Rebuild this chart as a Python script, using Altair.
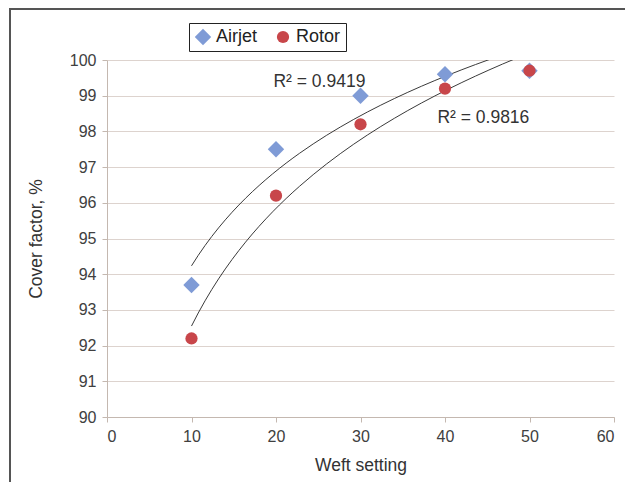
import altair as alt
import pandas as pd

weft = [10, 20, 30, 40, 50]
airjet = [93.7, 97.5, 99.0, 99.6, 99.7]
rotor = [92.2, 96.2, 98.2, 99.2, 99.7]
series_names = ["Airjet", "Rotor"]
colors = ["#7f9bd6", "#c8464a"]
shapes = ["diamond", "circle"]
marker_sizes = [270, 150]
r2_labels = ["R\u00b2 = 0.9419", "R\u00b2 = 0.9816"]
r2_x = [19.7, 39.1]
r2_y = [99.38, 98.37]

rows = []
for name, vals in zip(series_names, [airjet, rotor]):
    for w, v in zip(weft, vals):
        rows.append({"series": name, "weft": w, "value": v})
df = pd.DataFrame(rows)
ann = pd.DataFrame({"label": r2_labels, "weft": r2_x, "value": r2_y})

FONT = "Liberation Sans"
xs = alt.Scale(domain=[0, 60], nice=False)
ys = alt.Scale(domain=[90, 100], nice=False)

x_axis = alt.Axis(values=[0, 10, 20, 30, 40, 50, 60], grid=False,
                  tickSize=5, labelPadding=6, titlePadding=12)
y_axis = alt.Axis(values=list(range(90, 101)), grid=True,
                  tickSize=5, labelPadding=6, titlePadding=24)


def xe():
    return alt.X("weft:Q", scale=xs, title="Weft setting", axis=x_axis)


def ye():
    return alt.Y("value:Q", scale=ys, title="Cover factor, %", axis=y_axis)


legend = alt.Legend(orient="none", legendX=82, legendY=-37, direction="horizontal",
                    title=None, strokeColor="#222", fillColor="white", padding=5,
                    labelFontSize=18, labelFont=FONT, labelColor="#222",
                    symbolSize=110, columnPadding=16, symbolStrokeWidth=0)

frame = alt.Chart(pd.DataFrame({"a": [0]})).mark_rect(
    fill="transparent", stroke="#555555", strokeWidth=2, clip=False
).encode(x=alt.value(-97), x2=alt.value(540), y=alt.value(-51), y2=alt.value(900))

trend = alt.Chart(df).transform_regression(
    "weft", "value", groupby=["series"], method="log", extent=[10, 50]
).mark_line(color="#3a3a3a", strokeWidth=1, clip=True).encode(
    x=xe(), y=ye(), detail="series:N"
)

points = alt.Chart(df).mark_point(filled=True, opacity=1).encode(
    x=xe(), y=ye(),
    color=alt.Color("series:N", scale=alt.Scale(domain=series_names, range=colors), legend=legend),
    shape=alt.Shape("series:N", scale=alt.Scale(domain=series_names, range=shapes), legend=legend),
    size=alt.Size("series:N", scale=alt.Scale(domain=series_names, range=marker_sizes), legend=None),
    order=alt.Order("series:N"),
)

texts = alt.Chart(ann).mark_text(align="left", baseline="middle", fontSize=17.5,
                                 font=FONT, color="#333333").encode(
    x=xe(), y=ye(), text="label:N"
)

chart = alt.layer(trend, points, texts, frame).properties(
    width=507, height=357,
    autosize=alt.AutoSizeParams(type="none"),
    padding={"left": 99, "top": 52, "right": 11, "bottom": 65},
).configure_view(stroke=None).configure_axis(
    domainColor="#c4b8b0", tickColor="#c4b8b0", gridColor="#ddd3ce",
    labelColor="#404040", titleColor="#333333", labelFont=FONT, titleFont=FONT,
    labelFontSize=16, titleFontSize=17.5, titleFontWeight="normal",
)

chart.save("out.html", embed_options={"renderer": "svg", "actions": False})
